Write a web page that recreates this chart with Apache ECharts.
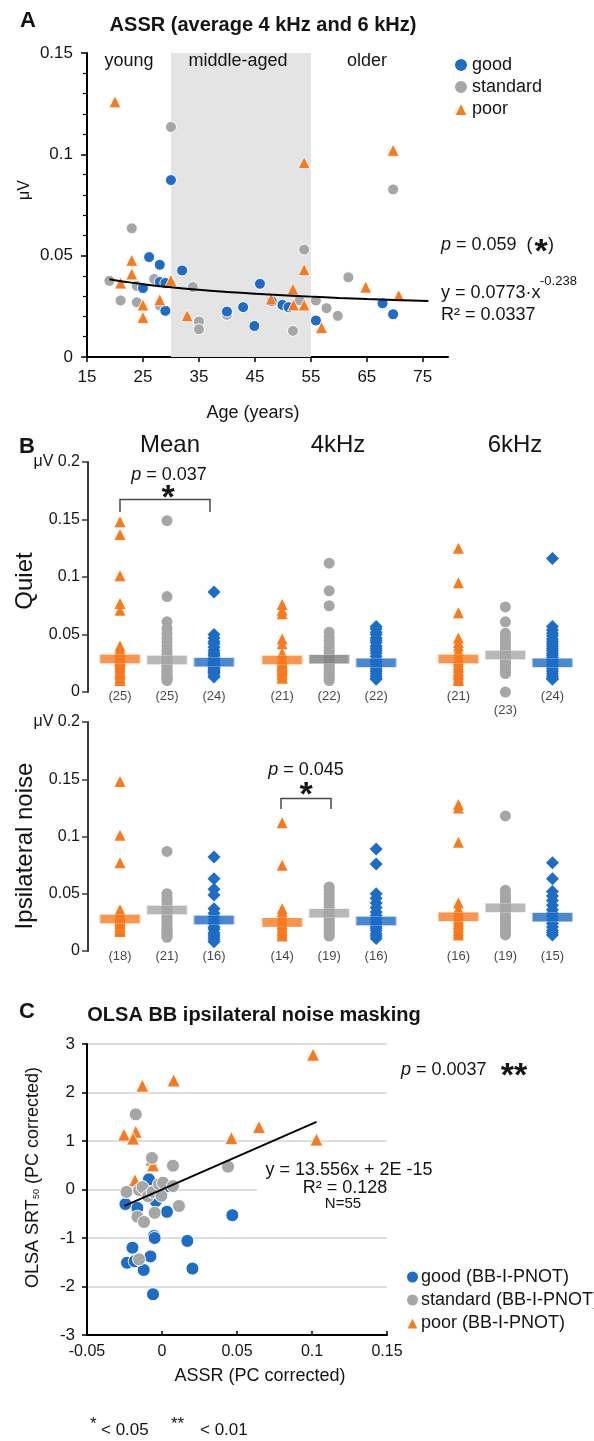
<!DOCTYPE html>
<html><head><meta charset="utf-8">
<script src="https://cdn.jsdelivr.net/npm/echarts@6/dist/echarts.min.js"></script>
<style>html,body{margin:0;padding:0;background:#fff}#c{width:594px;height:1441px}</style>
</head><body><div id="c"></div>
<script>
// ---------- Panel A data: ASSR vs age ----------
const ageTicks = [15, 25, 35, 45, 55, 65, 75];
const goodA = [[25,0.034],[26.1,0.0493],[28,0.0455],[28,0.037],[29,0.0365],[29,0.0228],[30,0.0873],[32,0.0427],[40,0.0224],[42.9,0.0246],[44.9,0.0153],[45.9,0.0361],[48,0.0275],[49.9,0.0257],[51,0.0246],[55.9,0.018],[67.8,0.0265],[69.7,0.0211]];
const standardA = [[19,0.0376],[21,0.0279],[23,0.0635],[23.9,0.0351],[23.9,0.027],[27,0.0385],[28,0.0254],[30,0.1135],[33.9,0.0345],[35,0.0175],[35,0.0137],[40,0.0208],[51.8,0.0129],[53,0.028],[53.8,0.053],[55.9,0.0279],[57.8,0.0241],[59.8,0.0203],[61.7,0.0393],[69.7,0.0827]];
const poorA = [[20,0.1259],[21,0.0365],[23,0.0477],[23,0.041],[25,0.0257],[25,0.0195],[28,0.0282],[30,0.0378],[32.9,0.0204],[47.9,0.0286],[51.8,0.0335],[51.9,0.0257],[53.8,0.0959],[53.8,0.0431],[53.8,0.0257],[56.9,0.0145],[64.8,0.0345],[69.7,0.102],[70.7,0.0303]];
const fitA = [[19,0.03837],[22,0.03704],[25,0.03593],[30,0.03441],[35,0.03316],[40,0.03213],[45,0.03124],[50,0.03046],[55,0.02979],[60,0.02917],[65,0.02862],[70,0.02812],[76,0.02758]];
const middleAgedRange = [30, 55];

// ---------- Panel B data ----------
const headersB = ['Mean', '4kHz', '6kHz'];
const quietMeanPoor = [0.148,0.137,0.101,0.077,0.071,0.040,0.037,0.035,0.033,0.031,0.030,0.029,0.028,0.027,0.026,0.025,0.024,0.022,0.020,0.018,0.016,0.015,0.013,0.012,0.010];
const quietMeanStd = [0.149,0.083,0.061,0.055,0.051,0.047,0.044,0.040,0.036,0.033,0.031,0.029,0.027,0.025,0.023,0.022,0.020,0.018,0.017,0.015,0.014,0.013,0.012,0.011,0.010];
const quietMeanGood = [0.087,0.050,0.047,0.044,0.042,0.039,0.036,0.034,0.032,0.030,0.028,0.026,0.025,0.024,0.023,0.022,0.021,0.020,0.019,0.018,0.017,0.016,0.014,0.013];
const quiet4kPoor = [0.076,0.071,0.068,0.046,0.042,0.034,0.030,0.028,0.026,0.025,0.024,0.023,0.022,0.021,0.020,0.019,0.018,0.016,0.015,0.013,0.012];
const quiet4kStd = [0.112,0.088,0.075,0.052,0.048,0.045,0.042,0.039,0.036,0.034,0.031,0.029,0.027,0.025,0.023,0.021,0.019,0.017,0.015,0.013,0.012,0.010];
const quiet4kGood = [0.057,0.055,0.052,0.050,0.047,0.045,0.043,0.040,0.038,0.036,0.034,0.031,0.028,0.026,0.024,0.022,0.020,0.018,0.016,0.014,0.012,0.011];
const quiet6kPoor = [0.125,0.095,0.069,0.047,0.043,0.040,0.036,0.033,0.030,0.028,0.026,0.024,0.022,0.021,0.019,0.018,0.016,0.015,0.013,0.011,0.010];
const quiet6kStd = [0.074,0.061,0.051,0.048,0.045,0.042,0.040,0.037,0.034,0.032,0.030,0.028,0.027,0.025,0.024,0.022,0.021,0.020,0.019,0.018,0.017,0.016,0.000];
const quiet6kGood = [0.116,0.057,0.054,0.051,0.049,0.046,0.044,0.042,0.040,0.038,0.036,0.034,0.032,0.030,0.028,0.026,0.024,0.022,0.020,0.018,0.016,0.014,0.012,0.011];
const ipsiMeanPoor = [0.148,0.101,0.077,0.036,0.033,0.031,0.030,0.029,0.028,0.027,0.026,0.025,0.024,0.022,0.021,0.019,0.018,0.017];
const ipsiMeanStd = [0.087,0.050,0.047,0.045,0.043,0.040,0.037,0.035,0.033,0.031,0.029,0.027,0.025,0.023,0.021,0.019,0.018,0.016,0.015,0.013,0.012];
const ipsiMeanGood = [0.082,0.063,0.054,0.049,0.037,0.033,0.030,0.027,0.024,0.021,0.019,0.016,0.014,0.012,0.010,0.008];
const ipsi4kPoor = [0.112,0.075,0.037,0.034,0.031,0.028,0.026,0.024,0.022,0.020,0.018,0.016,0.014,0.013];
const ipsi4kStd = [0.056,0.053,0.050,0.047,0.044,0.041,0.038,0.035,0.033,0.031,0.029,0.027,0.025,0.023,0.021,0.019,0.017,0.015,0.013];
const ipsi4kGood = [0.089,0.076,0.050,0.046,0.042,0.038,0.034,0.031,0.028,0.025,0.022,0.020,0.018,0.015,0.013,0.011];
const ipsi6kPoor = [0.128,0.125,0.095,0.042,0.037,0.034,0.032,0.030,0.028,0.026,0.024,0.022,0.020,0.018,0.016,0.014];
const ipsi6kStd = [0.118,0.053,0.050,0.047,0.045,0.043,0.040,0.038,0.036,0.034,0.031,0.029,0.027,0.025,0.022,0.020,0.018,0.016,0.014];
const ipsi6kGood = [0.077,0.063,0.052,0.048,0.044,0.040,0.036,0.033,0.030,0.027,0.024,0.021,0.018,0.016,0.014];
const quietBarValues = [[0.0287,0.0278,0.0258],[0.0278,0.0284,0.0255],[0.0287,0.0322,0.0255]];
const ipsiBarValues = [[0.028,0.0358,0.0271],[0.025,0.0329,0.0262],[0.030,0.0378,0.0294]];

// ---------- Panel C data ----------
const goodC = [[-0.0087,0.21],[-0.0244,-0.30],[-0.0164,-0.38],[-0.0042,-0.24],[0.0033,-0.46],[0.0024,0.06],[0.0469,-0.53],[-0.0053,-0.96],[-0.0049,-1.0],[0.0169,-1.06],[-0.0197,-1.2],[-0.0233,-1.51],[-0.0182,-1.48],[-0.0077,-1.38],[-0.0122,-1.66],[0.0203,-1.63],[-0.006,-2.16]];
const standardC = [[-0.0175,1.55],[-0.0067,0.65],[0.0073,0.49],[0.044,0.47],[-0.0237,-0.05],[-0.0153,-0.01],[-0.013,0.05],[-0.0093,-0.14],[-0.0062,-0.05],[-0.002,0.11],[0.0007,0.14],[-0.0004,-0.13],[0.0073,0.07],[0.0113,-0.34],[-0.0164,-0.56],[-0.012,-0.67],[-0.0049,-0.48],[-0.0153,-1.44]];
const poorC = [[-0.0131,2.14],[0.0078,2.25],[-0.0253,1.13],[-0.0175,1.19],[-0.0193,1.05],[-0.0071,0.62],[-0.006,0.50],[-0.018,0.19],[0.0463,1.06],[0.0647,1.29],[0.1007,2.78],[0.103,1.03]];
const trendC = [[-0.025,-0.339],[0.103,1.396]];

// ---------- styling ----------
const FF = '"Liberation Sans", Arial, Helvetica, sans-serif';
const BLUE = '#1d6cc5', GRAY = '#a6a6a6', ORANGE = '#f87a1f', DGRAY = '#7f7f7f', INK = '#141414';
const GROUP_OFF = [0, 3.45, 7.2];   // layout of the three groups in panel B (x units)

const chart = echarts.init(document.getElementById('c'), null, {renderer: 'canvas', width: 594, height: 1441});

function T(x, y, text, o) {
  o = o || {};
  const st = {
    text: text, fill: o.color || INK, fontSize: o.size || 17, fontFamily: FF,
    fontWeight: o.bold ? 'bold' : 'normal', fontStyle: o.italic ? 'italic' : 'normal',
    align: o.align || 'center', verticalAlign: o.va || 'middle',
    textAlign: o.align || 'center', textVerticalAlign: o.va || 'middle'
  };
  if (o.rich) st.rich = o.rich;
  return {type: 'text', x: x, y: y, rotation: o.rot || 0, z: 100, silent: true, style: st};
}
const ital = {i: {fontStyle: 'italic', fontSize: 18, fontFamily: FF, fill: INK}};

// panel B series builders
const quietGroups = [[quietMeanPoor, quietMeanStd, quietMeanGood],[quiet4kPoor, quiet4kStd, quiet4kGood],[quiet6kPoor, quiet6kStd, quiet6kGood]];
const ipsiGroups = [[ipsiMeanPoor, ipsiMeanStd, ipsiMeanGood],[ipsi4kPoor, ipsi4kStd, ipsi4kGood],[ipsi6kPoor, ipsi6kStd, ipsi6kGood]];
const memberStyle = [
  {color: ORANGE, symbol: 'triangle', size: 11},
  {color: GRAY, symbol: 'circle', size: 11},
  {color: BLUE, symbol: 'diamond', size: 13}
];
function bSeries(groups, bars, idx, barColors, countOffsets) {
  const out = [];
  for (let m = 0; m < 3; m++) {
    const data = [];
    groups.forEach((g, gi) => g[m].forEach(v => data.push([GROUP_OFF[gi] + m, v])));
    out.push({type: 'scatter', xAxisIndex: idx, yAxisIndex: idx, data: data, symbol: memberStyle[m].symbol,
      symbolSize: memberStyle[m].size, itemStyle: {color: memberStyle[m].color, opacity: 1}, z: 3 + m, silent: true});
  }
  const barData = [], countData = [];
  bars.forEach((row, gi) => row.forEach((v, m) => {
    barData.push({value: [GROUP_OFF[gi] + m, v], itemStyle: {color: barColors[gi][m], borderColor: 'rgba(255,255,255,0.6)', borderWidth: 1}});
    countData.push({value: [GROUP_OFF[gi] + m, 0, groups[gi][m].length], label: {offset: [0, countOffsets[gi][m]]}});
  }));
  out.push({type: 'scatter', xAxisIndex: idx, yAxisIndex: idx, data: barData, symbol: 'rect', symbolSize: [41, 9], z: 8, silent: true});
  out.push({type: 'scatter', xAxisIndex: idx, yAxisIndex: idx, data: countData, symbolSize: 1, itemStyle: {color: 'rgba(0,0,0,0)'}, z: 8, silent: true,
    label: {show: true, position: 'inside', formatter: p => '(' + p.value[2] + ')', fontSize: 13, fontFamily: FF, color: INK}});
  return out;
}
const barColorsQ = [[ORANGE, GRAY, BLUE],[ORANGE, DGRAY, BLUE],[ORANGE, GRAY, BLUE]];
const barColorsI = [[ORANGE, GRAY, BLUE],[ORANGE, GRAY, BLUE],[ORANGE, GRAY, BLUE]];

const axisB = (gi) => ({
  gridIndex: gi, type: 'value', min: 0, max: 0.2, interval: 0.05,
  axisLine: {show: true, onZero: false, lineStyle: {color: '#3a3a3a', width: 2}},
  axisTick: {show: true, length: 6, lineStyle: {color: '#3a3a3a', width: 1.5}},
  axisLabel: {fontSize: 16, fontFamily: FF, color: INK, margin: 8, formatter: v => (Math.abs(v - 0.2) < 1e-9 ? 'μV 0.2' : String(+v.toFixed(2)))},
  splitLine: {show: false}
});

const option = {
  animation: false,
  backgroundColor: '#fff',
  grid: [
    {left: 87, top: 53, width: 361, height: 304},
    {left: 88, top: 462, width: 492, height: 230},
    {left: 88, top: 722, width: 492, height: 229},
    {left: 87, top: 1044, width: 300, height: 291}
  ],
  xAxis: [
    {gridIndex: 0, type: 'value', min: 15, max: 79.5,
      axisLine: {onZero: false, lineStyle: {color: '#000', width: 2}},
      axisTick: {show: true, length: 5, customValues: ageTicks, lineStyle: {color: '#000', width: 1.5}},
      axisLabel: {customValues: ageTicks, fontSize: 17, fontFamily: FF, color: INK, margin: 12},
      splitLine: {show: false}},
    {gridIndex: 1, type: 'value', min: -0.681, max: 9.787, show: false},
    {gridIndex: 2, type: 'value', min: -0.681, max: 9.787, show: false},
    {gridIndex: 3, type: 'value', min: -0.05, max: 0.15, interval: 0.05,
      axisLine: {onZero: false, lineStyle: {color: '#000', width: 2}},
      axisTick: {show: true, inside: true, length: 4, lineStyle: {color: '#000', width: 1.5}},
      axisLabel: {fontSize: 16, fontFamily: FF, color: INK, margin: 9},
      splitLine: {show: false}}
  ],
  yAxis: [
    {gridIndex: 0, type: 'value', min: 0, max: 0.15, interval: 0.05,
      axisLine: {show: true, onZero: false, lineStyle: {color: '#000', width: 2}},
      axisTick: {show: true, length: 6, lineStyle: {color: '#000', width: 1.5}},
      minorTick: {show: true, splitNumber: 5, length: 4, lineStyle: {color: '#000', width: 1.2}},
      axisLabel: {fontSize: 17, fontFamily: FF, color: INK, margin: 14},
      splitLine: {show: false}},
    axisB(1), axisB(2),
    {gridIndex: 3, type: 'value', min: -3, max: 3, interval: 1,
      axisLine: {show: true, onZero: false, lineStyle: {color: '#000', width: 2}},
      axisTick: {show: true, length: 5, lineStyle: {color: '#000', width: 1.5}},
      axisLabel: {fontSize: 17, fontFamily: FF, color: INK, margin: 12},
      splitLine: {show: true, lineStyle: {color: '#d3d3d3', width: 1.5}}}
  ],
  legend: [
    {data: ['good', 'standard', 'poor'], orient: 'vertical', left: 448, top: 51, itemGap: 4,
      itemWidth: 14, itemHeight: 14, selectedMode: false,
      textStyle: {fontSize: 18, fontFamily: FF, color: INK, padding: [0, 0, 0, -1]}},
    {data: ['good (BB-I-PNOT)', 'standard (BB-I-PNOT)', 'poor (BB-I-PNOT)'], orient: 'vertical', left: 400, top: 1263, itemGap: 5,
      itemWidth: 13, itemHeight: 13, selectedMode: false,
      textStyle: {fontSize: 18, fontFamily: FF, color: INK, padding: [0, 0, 0, -3]}}
  ],
  series: [
    // Panel A
    {type: 'line', xAxisIndex: 0, yAxisIndex: 0, data: middleAgedRange.map(a => [a, 0]), symbol: 'none', lineStyle: {opacity: 0}, z: 1, silent: true,
      markArea: {silent: true, itemStyle: {color: '#e4e4e4'}, data: [[{xAxis: middleAgedRange[0]}, {xAxis: middleAgedRange[1]}]]}},
    {name: 'standard', type: 'scatter', xAxisIndex: 0, yAxisIndex: 0, data: standardA, symbol: 'circle', symbolSize: 11,
      itemStyle: {color: GRAY, borderColor: '#fff', borderWidth: 1, opacity: 1}, z: 3},
    {name: 'good', type: 'scatter', xAxisIndex: 0, yAxisIndex: 0, data: goodA, symbol: 'circle', symbolSize: 11,
      itemStyle: {color: BLUE, borderColor: '#fff', borderWidth: 1, opacity: 1}, z: 4},
    {name: 'poor', type: 'scatter', xAxisIndex: 0, yAxisIndex: 0, data: poorA, symbol: 'triangle', symbolSize: 12,
      itemStyle: {color: ORANGE, borderColor: '#fff', borderWidth: 0.8, opacity: 1}, z: 5},
    {type: 'line', xAxisIndex: 0, yAxisIndex: 0, data: fitA, smooth: true, symbol: 'none', lineStyle: {color: '#000', width: 2}, z: 6, silent: true},
    // Panel B
    ...bSeries(quietGroups, quietBarValues, 1, barColorsQ, [[4,4,4],[4,4,4],[4,18,4]]),
    ...bSeries(ipsiGroups, ipsiBarValues, 2, barColorsI, [[5,5,5],[5,5,5],[5,5,5]]),
    // Panel C
    {name: 'good (BB-I-PNOT)', type: 'scatter', xAxisIndex: 3, yAxisIndex: 3, data: goodC, symbol: 'circle', symbolSize: 13,
      itemStyle: {color: BLUE, borderColor: '#fff', borderWidth: 1, opacity: 1}, z: 3},
    {name: 'poor (BB-I-PNOT)', type: 'scatter', xAxisIndex: 3, yAxisIndex: 3, data: poorC, symbol: 'triangle', symbolSize: 13,
      itemStyle: {color: ORANGE, borderColor: '#fff', borderWidth: 0.8, opacity: 1}, z: 4},
    {name: 'standard (BB-I-PNOT)', type: 'scatter', xAxisIndex: 3, yAxisIndex: 3, data: standardC, symbol: 'circle', symbolSize: 13,
      itemStyle: {color: GRAY, borderColor: '#fff', borderWidth: 1, opacity: 1}, z: 5},
    {type: 'line', xAxisIndex: 3, yAxisIndex: 3, data: trendC, symbol: 'none', lineStyle: {color: '#000', width: 2}, z: 6, silent: true}
  ],
  graphic: [
    // Panel A texts
    T(28, 21, 'A', {bold: true, size: 22}),
    T(263, 25, 'ASSR (average 4 kHz and 6 kHz)', {bold: true, size: 20}),
    T(129, 61, 'young', {size: 18}),
    T(238, 61, 'middle-aged', {size: 18}),
    T(367, 61, 'older', {size: 18}),
    T(25, 190, 'μV', {size: 16, rot: Math.PI / 2}),
    T(253, 413, 'Age (years)', {size: 18}),
    T(441, 245, '{i|p} = 0.059  (', {size: 18, align: 'left', rich: ital}),
    T(541, 253, '*', {size: 34, bold: true}),
    T(548, 245, ')', {size: 18, align: 'left'}),
    T(441, 293, 'y = 0.0773·x', {size: 18, align: 'left'}),
    T(540, 281, '-0.238', {size: 13, align: 'left'}),
    T(441, 315, 'R² = 0.0337', {size: 18, align: 'left'}),
    // Panel B texts
    T(27, 447, 'B', {bold: true, size: 22}),
    T(170, 445, headersB[0], {size: 24}),
    T(338, 445, headersB[1], {size: 24}),
    T(515, 445, headersB[2], {size: 24}),
    T(25, 581, 'Quiet', {size: 24, rot: Math.PI / 2}),
    T(25, 846, 'Ipsilateral noise', {size: 24, rot: Math.PI / 2}),
    T(169, 475, '{i|p} = 0.037', {size: 18, rich: ital}),
    T(168, 499, '*', {size: 34, bold: true}),
    {type: 'polyline', z: 100, silent: true, shape: {points: [[120, 512], [120, 499.5], [210, 499.5], [210, 512]]}, style: {stroke: '#4a4a4a', lineWidth: 1.5, fill: null}},
    T(306, 770, '{i|p} = 0.045', {size: 18, rich: ital}),
    T(306, 796, '*', {size: 34, bold: true}),
    {type: 'polyline', z: 100, silent: true, shape: {points: [[281, 809], [281, 798.5], [331, 798.5], [331, 809]]}, style: {stroke: '#4a4a4a', lineWidth: 1.5, fill: null}},
    // Panel C texts
    T(27, 1012, 'C', {bold: true, size: 22}),
    T(254, 1015, 'OLSA BB ipsilateral noise masking', {bold: true, size: 20}),
    T(33, 1288, 'OLSA SRT', {size: 18, rot: Math.PI / 2, align: 'left'}),
    T(37, 1199, '50', {size: 9, rot: Math.PI / 2, align: 'left'}),
    T(33, 1189, ' (PC corrected)', {size: 18, rot: Math.PI / 2, align: 'left'}),
    T(260, 1376, 'ASSR (PC corrected)', {size: 18}),
    T(401, 1070, '{i|p} = 0.0037', {size: 18, align: 'left', rich: ital}),
    T(514, 1077, '**', {size: 34, bold: true}),
    {type: 'rect', z: 50, silent: true, shape: {x: 257, y: 1161, width: 176, height: 53}, style: {fill: '#fff'}},
    T(349, 1170, 'y = 13.556x + 2E -15', {size: 18}),
    T(345, 1188, 'R² = 0.128', {size: 18}),
    T(343, 1204, 'N=55', {size: 15}),
    T(90, 1424, '*', {size: 17, align: 'left'}),
    T(101, 1430, '< 0.05', {size: 17, align: 'left'}),
    T(171, 1424, '**', {size: 17, align: 'left'}),
    T(200, 1430, '< 0.01', {size: 17, align: 'left'})
  ]
};
chart.setOption(option);
</script></body></html>
